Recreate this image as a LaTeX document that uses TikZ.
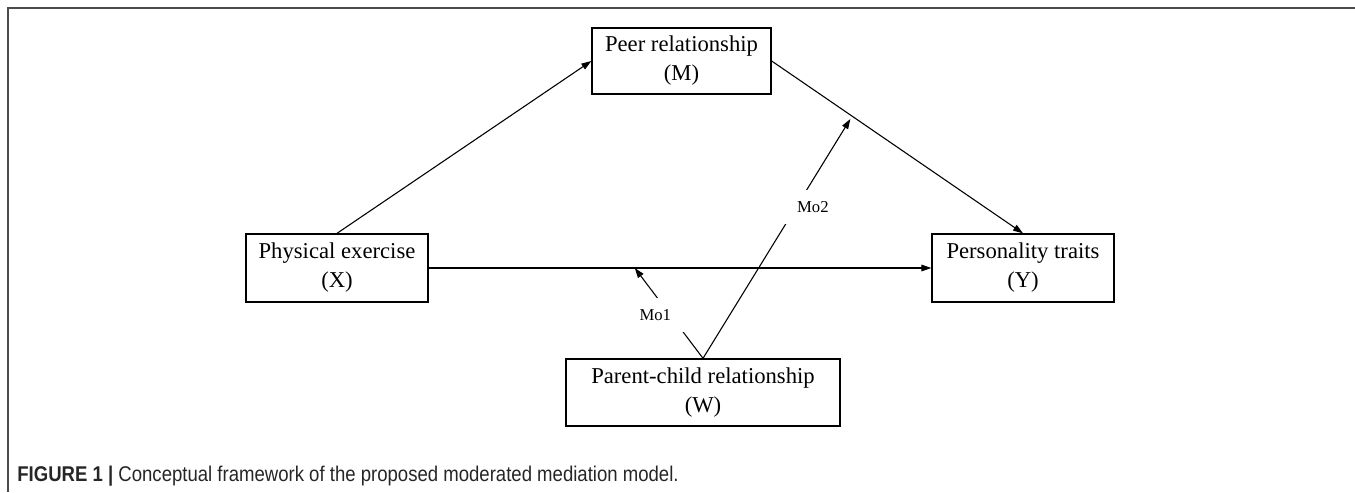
\documentclass[tikz,border=0pt]{standalone}
\usepackage{fontspec}
\setmainfont{Liberation Serif}
\newfontfamily\capfont[FakeStretch=0.87]{Liberation Sans}
\usetikzlibrary{arrows.meta,calc}

\begin{document}
\begin{tikzpicture}[x=0.6pt, y=-0.6pt,
  var/.style={draw=black, line width=0.8pt, align=center, inner sep=2pt,
    font=\fontsize{13.6}{17.4}\selectfont},
  conn/.style={line width=0.65pt, -{Triangle[length=6pt,width=4pt]}},
  modlabel/.style={fill=white, inner xsep=8pt, inner ysep=7pt,
    font=\fontsize{10}{12}\selectfont},
  frame/.style={draw=black!70, line width=1.2pt}]
\useasboundingbox (0,0) rectangle (1355,492);
\draw[frame] (8,492) -- (8,8) -- (1355,8);

\node[var, minimum width=107.4pt, minimum height=39.6pt] (M) at (681.5,61) {Peer relationship\\(M)};
\node[var, minimum width=109.2pt, minimum height=40.8pt] (X) at (337,268) {Physical exercise\\(X)};
\node[var, minimum width=109.2pt, minimum height=40.8pt] (Y) at (1023,268) {Personality traits\\(Y)};
\node[var, minimum width=164.4pt, minimum height=40.2pt] (W) at (703,392.5) {Parent-child relationship\\(W)};

\draw[conn] (X.north) -- (M.west);
\draw[conn] (M.east) -- (Y.north);
\draw[conn] (X.east) -- (Y.west);

\coordinate (t1) at ($(X.east)!0.41!(Y.west)$);
\coordinate (t2) at ($(M.east)!0.32!(Y.north)$);
\draw[conn] (W.north) -- node[modlabel, pos=0.48, xshift=-9pt] {Mo1} (t1);
\draw[conn, shorten >=2pt] (W.north) -- node[modlabel, pos=0.625, xshift=10pt] {Mo2} (t2);

\node[anchor=base west, inner sep=0pt, text=black!85,
  font=\capfont\fontsize{12.8}{15}\selectfont] (cap) at (17,481)
  {\textbf{FIGURE 1 |} Conceptual framework of the proposed moderated mediation model.};
\end{tikzpicture}
\end{document}
